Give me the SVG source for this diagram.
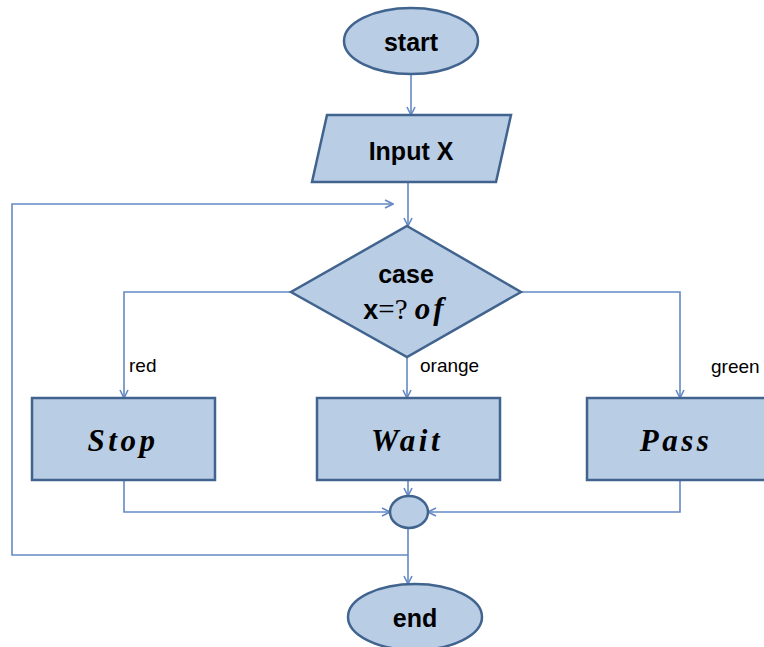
<svg xmlns="http://www.w3.org/2000/svg" width="764" height="647" viewBox="0 0 764 647">
  <style>
    .shape { fill: #b9cde5; stroke: #41648f; stroke-width: 2.5; }
    .conn { fill: none; stroke: #6489c4; stroke-width: 1.6; }
    .lbl { font-family: "Liberation Sans", Arial, sans-serif; font-weight: bold; font-size: 25px; fill: #000; text-anchor: middle; }
    .act { font-family: "Liberation Serif", "Times New Roman", serif; font-weight: bold; font-style: italic; font-size: 31px; letter-spacing: 3.5px; fill: #000; text-anchor: middle; }
    .edge { font-family: "Liberation Sans", Arial, sans-serif; font-size: 19px; fill: #000; }
  </style>
  <defs>
    <marker id="arrow" viewBox="0 0 10 10" refX="9" refY="5" markerWidth="10" markerHeight="10" markerUnits="userSpaceOnUse" orient="auto">
      <path d="M1,1 L9,5 L1,9" fill="none" stroke="#6489c4" stroke-width="1.6"/>
    </marker>
  </defs>
  <rect width="764" height="647" fill="#ffffff"/>

  <g id="connectors">
    <path class="conn" d="M411,74 V115" marker-end="url(#arrow)"/>
    <path class="conn" d="M408,182 V226" marker-end="url(#arrow)"/>
    <path class="conn" d="M291,292 H124 V398" marker-end="url(#arrow)"/>
    <path class="conn" d="M407,357 V398" marker-end="url(#arrow)"/>
    <path class="conn" d="M521,292 H680 V398" marker-end="url(#arrow)"/>
    <path class="conn" d="M124,480 V512 H390" marker-end="url(#arrow)"/>
    <path class="conn" d="M408,480 V496" marker-end="url(#arrow)"/>
    <path class="conn" d="M680,480 V512 H428" marker-end="url(#arrow)"/>
    <path class="conn" d="M408,528 V584" marker-end="url(#arrow)"/>
    <path class="conn" d="M408,555 H12 V204 H393" marker-end="url(#arrow)"/>
    <text class="edge" x="129" y="372">red</text>
    <text class="edge" x="420" y="372">orange</text>
    <text class="edge" x="711" y="373">green</text>
  </g>

  <g id="start">
    <ellipse class="shape" cx="411" cy="41" rx="67" ry="33"/>
    <text class="lbl" x="411" y="51">start</text>
  </g>

  <g id="input">
    <polygon class="shape" points="327,115 511,115 496,182 312,182"/>
    <text class="lbl" x="411" y="160">Input X</text>
  </g>

  <g id="decision">
    <polygon class="shape" points="407,226 521,292 407,357 291,292"/>
    <text class="lbl" x="406" y="283">case</text>
    <text x="405" y="319" text-anchor="middle" fill="#000"><tspan font-family="Liberation Sans, Arial, sans-serif" font-weight="bold" font-size="27">x</tspan><tspan font-family="Liberation Serif, Times New Roman, serif" font-size="29">=? </tspan><tspan font-family="Liberation Serif, Times New Roman, serif" font-weight="bold" font-style="italic" font-size="31" letter-spacing="3">of</tspan></text>
  </g>

  <g id="stop">
    <rect class="shape" x="32" y="398" width="183" height="82"/>
    <text class="act" x="123" y="451">Stop</text>
  </g>

  <g id="wait">
    <rect class="shape" x="317" y="398" width="183" height="82"/>
    <text class="act" x="407" y="451">Wait</text>
  </g>

  <g id="pass">
    <rect class="shape" x="587" y="398" width="190" height="82"/>
    <text class="act" x="676" y="451">Pass</text>
  </g>

  <g id="merge">
    <ellipse class="shape" cx="409" cy="512" rx="19" ry="16"/>
  </g>

  <g id="end">
    <ellipse class="shape" cx="415" cy="617" rx="67" ry="33"/>
    <text class="lbl" x="415" y="627">end</text>
  </g>
</svg>
